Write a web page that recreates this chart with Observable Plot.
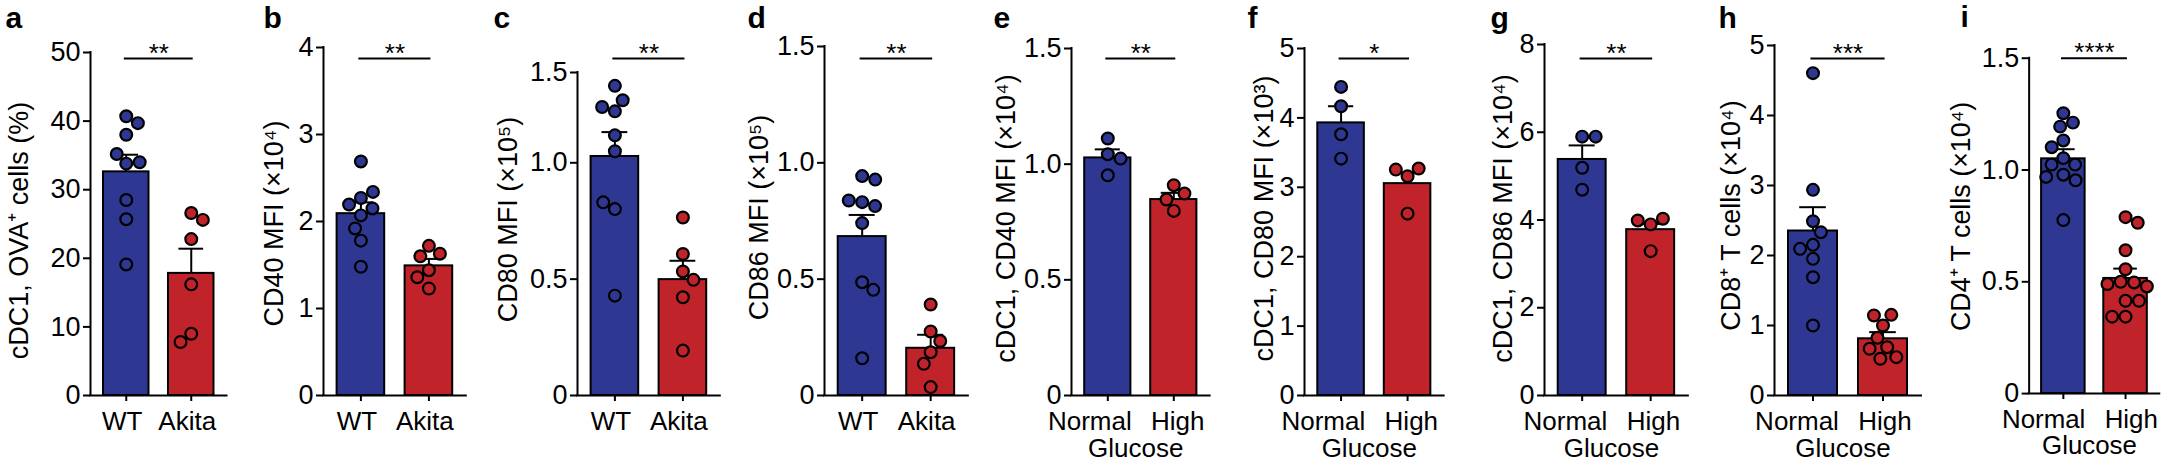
<!DOCTYPE html>
<html>
<head>
<meta charset="utf-8">
<script src="https://cdn.jsdelivr.net/npm/d3@7"></script>
<script src="https://cdn.jsdelivr.net/npm/@observablehq/plot@0.6"></script>
<style>
  html, body { margin: 0; padding: 0; background: #fff; }
  #root { position: relative; width: 2162px; height: 464px; overflow: hidden; background: #fff;
          font-family: "Liberation Sans", Arial, Helvetica, sans-serif; }
  .panel { position: absolute; top: 0; }
</style>
</head>
<body>
<div id="root"></div>
<script>
// ---------------- DATA ----------------
const letters = ["a", "b", "c", "d", "e", "f", "g", "h", "i"];
const yTitles = [
  "cDC1, OVA⁺ cells (%)",
  "CD40 MFI (×10⁴)",
  "CD80 MFI (×10⁵)",
  "CD86 MFI (×10⁵)",
  "cDC1, CD40 MFI (×10⁴)",
  "cDC1, CD80 MFI (×10³)",
  "cDC1, CD86 MFI (×10⁴)",
  "CD8⁺ T cells (×10⁴)",
  "CD4⁺ T cells (×10⁴)"
];
const groupsMouse = ["WT", "Akita"];
const groupsGlucose = ["Normal", "High"];
const xTitleGlucose = "Glucose";
const sigLabels = ["**", "**", "**", "**", "**", "*", "**", "***", "****"];

const ticks50 = [0, 10, 20, 30, 40, 50];
const ticks4 = [0, 1, 2, 3, 4];
const ticks15 = [0, 0.5, 1, 1.5];
const ticks5 = [0, 1, 2, 3, 4, 5];
const ticks8 = [0, 2, 4, 6, 8];

// panel a
const a_WT = [40.7, 39.7, 38.0, 33.8, 35.2, 34.0, 28.5, 25.7, 19.1];
const a_Akita = [26.6, 25.6, 22.8, 16.2, 9.0, 7.8];
const a_mean = [32.6, 17.8];
const a_sem = [2.5, 3.6];
// panel b
const b_WT = [2.69, 2.27, 2.07, 1.78, 1.48, 2.34, 2.195, 2.15, 1.92];
const b_Akita = [1.72, 1.44, 1.63, 1.60, 1.36, 1.23];
const b_mean = [2.09, 1.49];
const b_sem = [0.13, 0.08];
// panel c
const c_WT = [1.426, 1.285, 1.346, 1.309, 1.152, 1.064, 0.801, 0.830, 0.429];
const c_Akita = [0.765, 0.608, 0.422, 0.193, 0.533, 0.497];
const c_mean = [1.035, 0.498];
const c_sem = [0.135, 0.081];
// panel d
const d_WT = [0.943, 0.928, 0.831, 0.838, 0.814, 0.741, 0.487, 0.454, 0.160];
const d_Akita = [0.391, 0.036, 0.275, 0.234, 0.186, 0.136];
const d_mean = [0.683, 0.203];
const d_sem = [0.093, 0.058];
// panel e
const e_Normal = [1.111, 0.952, 1.043, 1.024];
const e_High = [0.909, 0.798, 0.873, 0.847];
const e_mean = [1.027, 0.847];
const e_sem = [0.037, 0.029];
// panel f
const f_Normal = [4.447, 4.168, 3.764, 3.413];
const f_High = [3.159, 2.62, 3.27, 3.255];
const f_mean = [3.928, 3.053];
const f_sem = [0.24, 0.16];
// panel g
const g_Normal = [5.90, 5.90, 5.19, 4.69];
const g_High = [3.90, 3.29, 4.03, 3.99];
const g_mean = [5.38, 3.78];
const g_sem = [0.32, 0.13];
// panel h
const h_Normal = [4.605, 2.938, 1.69, 1.0, 2.49, 2.333, 2.152, 2.095, 1.952];
const h_High = [1.0, 1.152, 1.143, 0.824, 0.69, 0.667, 0.548, 0.524];
const h_mean = [2.35, 0.81];
const h_sem = [0.34, 0.095];
// panel i
const i_Normal = [1.254, 1.212, 1.194, 1.132, 1.102, 1.053, 1.024, 1.024, 0.979, 0.969, 0.954, 0.776];
const i_High = [0.789, 0.764, 0.641, 0.556, 0.500, 0.497, 0.490, 0.479, 0.415, 0.415, 0.344, 0.344];
const i_mean = [1.05, 0.515];
const i_sem = [0.043, 0.044];

// ---------------- ASSEMBLY ----------------
const panelData = [
  {groups: groupsMouse, values: [a_WT, a_Akita], mean: a_mean, sem: a_sem, ticks: ticks50},
  {groups: groupsMouse, values: [b_WT, b_Akita], mean: b_mean, sem: b_sem, ticks: ticks4},
  {groups: groupsMouse, values: [c_WT, c_Akita], mean: c_mean, sem: c_sem, ticks: ticks15},
  {groups: groupsMouse, values: [d_WT, d_Akita], mean: d_mean, sem: d_sem, ticks: ticks15},
  {groups: groupsGlucose, values: [e_Normal, e_High], mean: e_mean, sem: e_sem, ticks: ticks15, xTitle: xTitleGlucose},
  {groups: groupsGlucose, values: [f_Normal, f_High], mean: f_mean, sem: f_sem, ticks: ticks5, xTitle: xTitleGlucose},
  {groups: groupsGlucose, values: [g_Normal, g_High], mean: g_mean, sem: g_sem, ticks: ticks8, xTitle: xTitleGlucose},
  {groups: groupsGlucose, values: [h_Normal, h_High], mean: h_mean, sem: h_sem, ticks: ticks5, xTitle: xTitleGlucose},
  {groups: groupsGlucose, values: [i_Normal, i_High], mean: i_mean, sem: i_sem, ticks: ticks15, xTitle: xTitleGlucose}
];

// ---------------- LAYOUT / STYLE ----------------
const H = 464, BASE = 395, SIG_PX = 58, XTITLE_BASELINE = 456;
const layout = [
  {letterX: 5,    axisX: 90,   step: 65,   top: 52, titleY: 230, titleGap: 82},
  {letterX: 263,  axisX: 323,  step: 68,   top: 47, titleY: 223, titleGap: 60},
  // panel c: the axis segment above 1.0 is drawn compressed in the original figure
  {letterX: 493,  axisX: 577,  step: 68,   top: 72, titleY: 219, titleGap: 80, breakAt: 1, breakPx: 162.3},
  {letterX: 747,  axisX: 824,  step: 68.5, top: 46, titleY: 217, titleGap: 76},
  {letterX: 993,  axisX: 1071, step: 66,   top: 48, titleY: 218, titleGap: 76},
  {letterX: 1247, axisX: 1304, step: 66.5, top: 48, titleY: 218, titleGap: 51},
  {letterX: 1490, axisX: 1544, step: 68.5, top: 44, titleY: 218, titleGap: 52},
  {letterX: 1718, axisX: 1774, step: 70,   top: 45, titleY: 215, titleGap: 54},
  {letterX: 1960, axisX: 2029, step: 62.5, top: 58, titleY: 217, titleGap: 79}
];
// x tick-label placement: [anchor position in x units, pixel shift] per group
const labelPlaceMouse = [[0, -4], [1, -4]];
const labelPlaceGlucose = [[0.5, -51], [0.5, 37]];
const COLORS = ["#2e3893", "#c0242a"];
const X_LO = -0.55, X_HI = 1.55;
const BAR_HALF = 0.35, CAP_HALF = 0.19;
const DOT_R = 5.9, DOT_GAP = 13.5;
const FONT = "Liberation Sans, Arial, Helvetica, sans-serif";
const TICK_FS = 27, XLAB_FS = 26, TITLE_FS = 27;

function swarm(values, pxOf, step) {
  const placed = [];
  let side = 1;
  return values.map(v => {
    const y = pxOf(v);
    const cands = [0];
    for (const p of placed) {
      const dy = Math.abs(p.y - y);
      if (dy < DOT_GAP) {
        const dx = Math.sqrt(DOT_GAP * DOT_GAP - dy * dy);
        cands.push(p.x + dx, p.x - dx);
      }
    }
    const ok = c => placed.every(p => (p.x - c) ** 2 + (p.y - y) ** 2 >= DOT_GAP * DOT_GAP - 0.01);
    const valid = cands.filter(ok);
    const minAbs = Math.min(...valid.map(Math.abs));
    const ties = valid.filter(c => Math.abs(c) - minAbs < 0.5);
    let x;
    if (ties.some(c => c > 0.25) && ties.some(c => c < -0.25)) {
      x = side > 0 ? Math.max(...ties) : Math.min(...ties);
      side = -side;
    } else x = ties[0];
    placed.push({x, y});
    return x / step;
  });
}

const root = document.getElementById("root");

panelData.forEach((pd, k) => {
  const L = layout[k];
  const left = L.letterX - 4;
  const ml = L.axisX - left;
  const plotW = (X_HI - X_LO) * L.step;
  const width = Math.ceil(ml + plotW) + 2;
  const mr = width - ml - plotW;
  const yMax = pd.ticks[pd.ticks.length - 1];

  // display mapping (identity except for the compressed top segment of panel c)
  let T = v => v, Tinv = u => u;
  if (L.breakAt !== undefined) {
    const lowRate = (BASE - L.breakPx) / L.breakAt;
    const highRate = (L.breakPx - L.top) / (yMax - L.breakAt);
    const ratio = highRate / lowRate, b = L.breakAt;
    T = v => v <= b ? v : b + (v - b) * ratio;
    Tinv = u => u <= b ? u : b + (u - b) / ratio;
  }
  const yOpts = {domain: [0, T(yMax)], range: [BASE, L.top]};
  const yScale = Plot.scale({y: yOpts});
  const sigY = yScale.invert(SIG_PX);

  const bars = pd.groups.map((g, i) => ({group: g, i, mean: pd.mean[i], sem: pd.sem[i]}));
  const points = [];
  pd.groups.forEach((g, i) => {
    const offs = swarm(pd.values[i], v => yScale.apply(T(v)), L.step);
    pd.values[i].forEach((v, j) => points.push({group: g, value: v, xj: i + offs[j]}));
  });

  const fmt = yMax === 1.5 ? (d => d === 0 ? "0" : d.toFixed(1)) : (d => String(d));
  const frameMid = (L.top + BASE) / 2;
  const place = pd.xTitle ? labelPlaceGlucose : labelPlaceMouse;

  const marks = [
    Plot.rectY(bars, {x1: d => d.i - BAR_HALF, x2: d => d.i + BAR_HALF, y1: 0, y2: d => T(d.mean),
      fill: "group", stroke: "black", strokeWidth: 2}),
    Plot.ruleX(bars, {x: "i", y1: d => T(d.mean), y2: d => T(d.mean + d.sem), stroke: "black", strokeWidth: 2}),
    Plot.ruleY(bars, {y: d => T(d.mean + d.sem), x1: d => d.i - CAP_HALF, x2: d => d.i + CAP_HALF,
      stroke: "black", strokeWidth: 2}),
    Plot.dot(points, {x: "xj", y: d => T(d.value), r: DOT_R, fill: "group", stroke: "black", strokeWidth: 2.2}),
    Plot.ruleY([0], {stroke: "black", strokeWidth: 2, strokeLinecap: "square"}),
    Plot.ruleX([X_LO], {y1: 0, y2: T(yMax), stroke: "black", strokeWidth: 2, strokeLinecap: "square"}),
    Plot.axisY({ticks: pd.ticks.map(T), tickFormat: u => fmt(+Tinv(u).toFixed(6)), tickSize: 7, tickPadding: 3,
      fontSize: TICK_FS, strokeWidth: 2, label: null}),
    Plot.axisX({ticks: [0, 1], tickFormat: () => "", tickSize: 6, strokeWidth: 2, label: null}),
    Plot.ruleY([sigY], {x1: -0.03, x2: 1.03, stroke: "black", strokeWidth: 2}),
    Plot.text([sigLabels[k]], {x: () => 0.5, y: () => sigY, text: d => d, fontSize: 26,
      lineAnchor: "bottom", dy: 3}),
    Plot.text([yTitles[k]], {frameAnchor: "left", text: d => d, rotate: -90, textAnchor: "middle",
      lineAnchor: "top", dx: -L.titleGap, dy: L.titleY - frameMid, fontSize: TITLE_FS}),
    Plot.text([letters[k]], {frameAnchor: "top-left", text: d => d, textAnchor: "start",
      lineAnchor: "bottom", dx: 4 - ml, dy: 27 - L.top, fontSize: 30, fontWeight: "bold"})
  ];
  pd.groups.forEach((g, i) => {
    marks.push(Plot.text([g], {x: () => place[i][0], frameAnchor: "bottom", text: d => d,
      lineAnchor: "top", dx: place[i][1], dy: 16, fontSize: XLAB_FS}));
  });
  if (pd.xTitle) {
    marks.push(Plot.text([pd.xTitle], {x: () => 0.5, frameAnchor: "bottom", text: d => d,
      lineAnchor: "bottom", dx: -5, dy: XTITLE_BASELINE - BASE, fontSize: XLAB_FS}));
  }

  const chart = Plot.plot({
    width, height: H,
    marginLeft: ml, marginRight: mr, marginTop: L.top, marginBottom: H - BASE,
    x: {domain: [X_LO, X_HI]},
    y: yOpts,
    color: {domain: pd.groups, range: COLORS},
    style: {fontFamily: FONT, background: "transparent", overflow: "visible", color: "black"},
    marks
  });
  const div = document.createElement("div");
  div.className = "panel";
  div.style.left = left + "px";
  div.appendChild(chart);
  root.appendChild(div);
});
</script>
</body>
</html>
